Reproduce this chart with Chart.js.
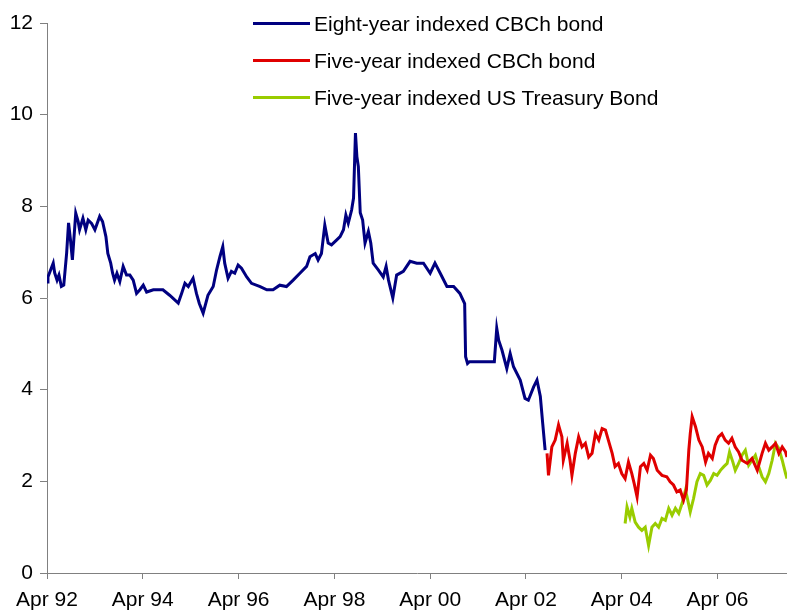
<!DOCTYPE html>
<html>
<head>
<meta charset="utf-8">
<title>Indexed bond yields</title>
<script src="https://cdn.jsdelivr.net/npm/chart.js@4.4.0/dist/chart.umd.min.js"></script>
<style>
  body { margin: 0; background: #fff; }
  .chart-wrapper { position: relative; width: 787px; height: 611px; }
  #legend {
    position: absolute; left: 253px; top: 5px;
    font-family: "Liberation Sans", Arial, sans-serif; font-size: 21px; color: #000;
  }
  .legend-row { display: flex; align-items: center; height: 37px; }
  .legend-line { width: 57px; height: 3px; margin-right: 4px; }
</style>
</head>
<body>
<div class="chart-wrapper">
  <canvas id="myChart" width="787" height="611"></canvas>
  <div id="legend"></div>
</div>
<script>
// x values are decimal years (1992.25 = Apr 92)
const cbch8Dates = [
  1992.25, 1992.27, 1992.38, 1992.41, 1992.46, 1992.50, 1992.55, 1992.60, 1992.66, 1992.70,
  1992.74, 1992.78, 1992.81, 1992.85, 1992.90, 1992.93, 1993.00, 1993.06, 1993.11, 1993.18,
  1993.25, 1993.35, 1993.41, 1993.48, 1993.52, 1993.58, 1993.62, 1993.66, 1993.71, 1993.77,
  1993.84, 1993.91, 1993.98, 1994.05, 1994.12, 1994.19, 1994.26, 1994.33, 1994.47, 1994.67,
  1994.81, 1994.99, 1995.06, 1995.13, 1995.20, 1995.30, 1995.37, 1995.43, 1995.51, 1995.61,
  1995.72, 1995.79, 1995.86, 1995.92, 1995.96, 1996.03, 1996.10, 1996.17, 1996.24, 1996.31,
  1996.42, 1996.52, 1996.70, 1996.84, 1996.97, 1997.11, 1997.25, 1997.39, 1997.53, 1997.67,
  1997.74, 1997.85, 1997.91, 1997.98, 1998.05, 1998.12, 1998.19, 1998.30, 1998.37, 1998.44,
  1998.49, 1998.54, 1998.61, 1998.65, 1998.69, 1998.72, 1998.75, 1998.79, 1998.84, 1998.89,
  1998.96, 1999.01, 1999.06, 1999.17, 1999.27, 1999.33, 1999.38, 1999.47, 1999.55, 1999.69,
  1999.83, 1999.97, 2000.11, 2000.25, 2000.35, 2000.46, 2000.60, 2000.74, 2000.87, 2000.97,
  2000.99, 2001.03, 2001.07, 2001.59, 2001.64, 2001.68, 2001.75, 2001.85, 2001.92, 2001.99,
  2002.13, 2002.23, 2002.30, 2002.41, 2002.48, 2002.55, 2002.60, 2002.65
];
const cbch8Values = [
  6.35, 6.46, 6.76, 6.55, 6.39, 6.50, 6.25, 6.28, 6.98, 7.64,
  7.27, 6.83, 7.27, 7.85, 7.67, 7.49, 7.74, 7.49, 7.70, 7.63,
  7.49, 7.78, 7.67, 7.34, 6.97, 6.76, 6.54, 6.39, 6.54, 6.36,
  6.69, 6.50, 6.50, 6.39, 6.10, 6.18, 6.28, 6.13, 6.18, 6.18,
  6.06, 5.89, 6.10, 6.32, 6.25, 6.43, 6.10, 5.88, 5.67, 6.06,
  6.25, 6.61, 6.90, 7.12, 6.76, 6.43, 6.58, 6.54, 6.72, 6.65,
  6.46, 6.32, 6.25, 6.18, 6.18, 6.28, 6.25, 6.39, 6.54, 6.69,
  6.90, 6.97, 6.83, 6.97, 7.59, 7.20, 7.16, 7.27, 7.34, 7.49,
  7.81, 7.63, 7.92, 8.18, 9.60, 9.08, 8.87, 7.86, 7.70, 7.20,
  7.45, 7.20, 6.76, 6.61, 6.46, 6.69, 6.39, 6.00, 6.50, 6.58,
  6.80, 6.76, 6.76, 6.54, 6.76, 6.54, 6.25, 6.25, 6.10, 5.88,
  4.72, 4.57, 4.61, 4.61, 5.34, 5.08, 4.86, 4.46, 4.79, 4.50,
  4.21, 3.81, 3.77, 4.06, 4.21, 3.85, 3.26, 2.68
];

const cbch5Dates = [
  2002.69, 2002.72, 2002.79, 2002.86, 2002.93, 2003.00, 2003.03, 2003.11, 2003.17, 2003.21,
  2003.28, 2003.35, 2003.42, 2003.49, 2003.56, 2003.63, 2003.70, 2003.77, 2003.84, 2003.91,
  2003.97, 2004.05, 2004.11, 2004.18, 2004.25, 2004.32, 2004.39, 2004.46, 2004.51, 2004.57,
  2004.64, 2004.71, 2004.78, 2004.85, 2004.91, 2004.99, 2005.09, 2005.19, 2005.26, 2005.33,
  2005.40, 2005.47, 2005.54, 2005.60, 2005.65, 2005.68, 2005.72, 2005.79, 2005.86, 2005.93,
  2006.00, 2006.06, 2006.14, 2006.20, 2006.27, 2006.34, 2006.41, 2006.48, 2006.55, 2006.62,
  2006.69, 2006.76, 2006.87, 2006.97, 2007.08, 2007.18, 2007.25, 2007.32, 2007.39, 2007.46,
  2007.53, 2007.60, 2007.67, 2007.70
];
const cbch5Values = [
  2.61, 2.13, 2.75, 2.90, 3.23, 2.97, 2.46, 2.83, 2.46, 2.13,
  2.61, 2.97, 2.75, 2.83, 2.53, 2.61, 3.04, 2.90, 3.15, 3.12,
  2.90, 2.61, 2.32, 2.39, 2.17, 2.06, 2.42, 2.17, 1.95, 1.66,
  2.32, 2.39, 2.24, 2.57, 2.50, 2.24, 2.13, 2.10, 1.99, 1.92,
  1.77, 1.81, 1.59, 1.81, 2.68, 3.04, 3.41, 3.19, 2.90, 2.75,
  2.42, 2.61, 2.50, 2.79, 2.97, 3.04, 2.90, 2.83, 2.94, 2.75,
  2.64, 2.46, 2.39, 2.50, 2.24, 2.61, 2.83, 2.68, 2.75, 2.83,
  2.61, 2.75, 2.64, 2.53
];

const tipsDates = [
  2004.32, 2004.36, 2004.42, 2004.46, 2004.53, 2004.60, 2004.67, 2004.74, 2004.81, 2004.88,
  2004.95, 2005.02, 2005.09, 2005.16, 2005.23, 2005.30, 2005.37, 2005.44, 2005.51, 2005.58,
  2005.62, 2005.68, 2005.75, 2005.82, 2005.89, 2005.96, 2006.03, 2006.10, 2006.17, 2006.24,
  2006.31, 2006.38, 2006.45, 2006.50, 2006.57, 2006.62, 2006.69, 2006.76, 2006.83, 2006.90,
  2006.97, 2007.04, 2007.11, 2007.18, 2007.25, 2007.32, 2007.39, 2007.46, 2007.53, 2007.60,
  2007.67, 2007.70
];
const tipsValues = [
  1.08, 1.44, 1.22, 1.41, 1.11, 1.00, 0.93, 1.00, 0.60, 1.00,
  1.08, 1.00, 1.19, 1.15, 1.41, 1.26, 1.41, 1.30, 1.52, 1.81,
  1.63, 1.33, 1.63, 1.99, 2.17, 2.13, 1.92, 2.02, 2.17, 2.13,
  2.24, 2.32, 2.39, 2.64, 2.42, 2.24, 2.39, 2.57, 2.68, 2.35,
  2.46, 2.57, 2.32, 2.10, 1.99, 2.17, 2.46, 2.83, 2.72, 2.46,
  2.17, 2.06
];

const tickYears = [1992.25, 1994.25, 1996.25, 1998.25, 2000.25, 2002.25, 2004.25, 2006.25];
const tickLabels = ['Apr 92', 'Apr 94', 'Apr 96', 'Apr 98', 'Apr 00', 'Apr 02', 'Apr 04', 'Apr 06'];

const toPoints = (dates, values) => dates.map((d, i) => ({ x: d, y: values[i] }));

const axisGrey = '#808080';
const tickFont = { family: '"Liberation Sans", Arial, sans-serif', size: 21 };

const datasets = [
  { label: 'Eight-year indexed CBCh bond', data: toPoints(cbch8Dates, cbch8Values), borderColor: '#000080' },
  { label: 'Five-year indexed CBCh bond', data: toPoints(cbch5Dates, cbch5Values), borderColor: '#e00000' },
  { label: 'Five-year indexed US Treasury Bond', data: toPoints(tipsDates, tipsValues), borderColor: '#99cc00' }
].map(ds => ({ ...ds, borderWidth: 3, pointRadius: 0, tension: 0, fill: false }));

new Chart(document.getElementById('myChart'), {
  type: 'line',
  data: { datasets: datasets },
  options: {
    responsive: false,
    animation: false,
    devicePixelRatio: 1,
    layout: { padding: { top: 23, right: 0, bottom: 0, left: 0 } },
    plugins: { legend: { display: false }, tooltip: { enabled: false } },
    scales: {
      x: {
        type: 'linear',
        min: 1992.25,
        max: 2007.70,
        afterBuildTicks: scale => { scale.ticks = tickYears.map(v => ({ value: v })); },
        afterFit: scale => { scale.height = 38; },
        ticks: {
          callback: (value, index) => tickLabels[index],
          color: '#000', font: tickFont, padding: 9, maxRotation: 0, autoSkip: false
        },
        grid: { drawOnChartArea: false, tickLength: 6, tickColor: axisGrey },
        border: { color: axisGrey, width: 1 }
      },
      y: {
        min: 0,
        max: 12,
        afterFit: scale => { scale.width = 47; },
        ticks: { stepSize: 2, color: '#000', font: tickFont, padding: 7 },
        grid: { drawOnChartArea: false, tickLength: 7, tickColor: axisGrey },
        border: { color: axisGrey, width: 1 }
      }
    }
  }
});

// legend as html, sits inside the plot area like the original
const legend = document.getElementById('legend');
datasets.forEach(ds => {
  legend.innerHTML +=
    `<div class="legend-row">
       <div class="legend-line" style="background:${ds.borderColor}"></div>
       <div>${ds.label}</div>
     </div>`;
});
</script>
</body>
</html>
